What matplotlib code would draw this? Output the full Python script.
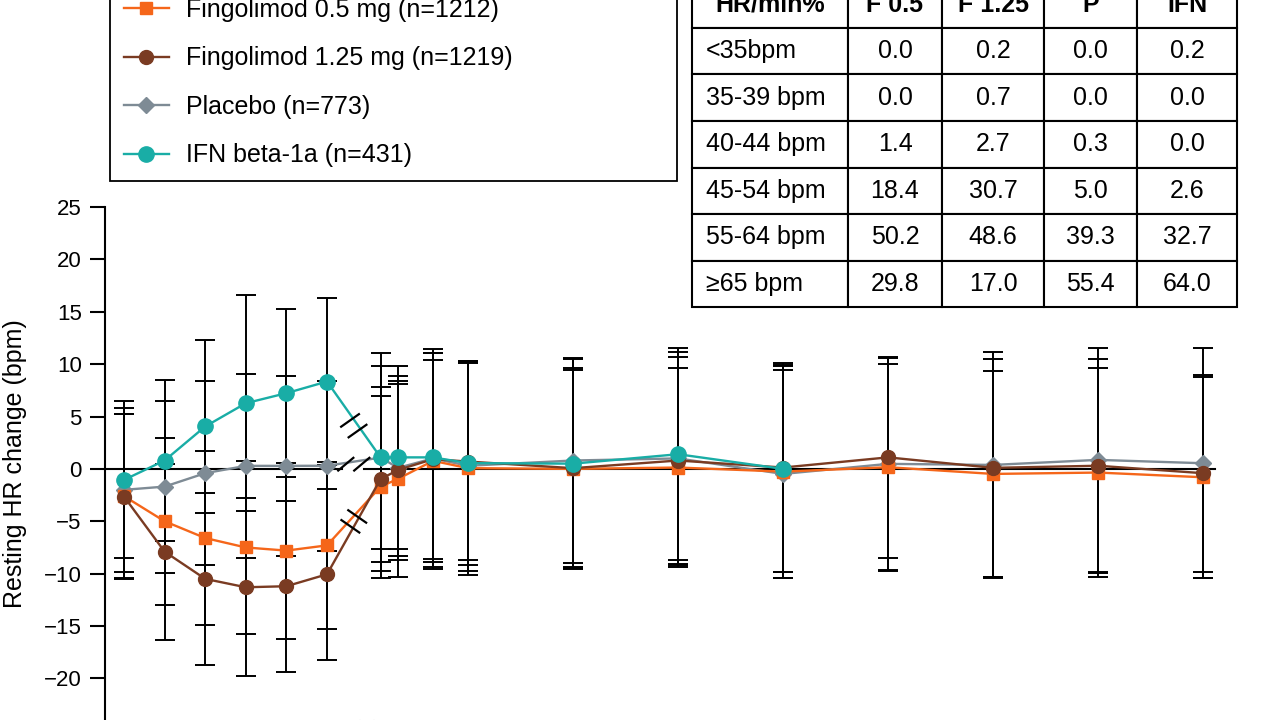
import numpy as np
import matplotlib
matplotlib.use("Agg")
import matplotlib.pyplot as plt
from matplotlib.lines import Line2D

plt.rcParams['font.family'] = ['Liberation Sans', 'DejaVu Sans']

# ---------------- data ----------------
hours = [0, 1, 2, 3, 4, 5]                       # day-1 hourly readings
months = [0.5, 1, 2, 3, 6, 9, 12, 15, 18, 21, 24]  # follow-up visits (months)

nan = np.nan
f05 = [-2.6, -5.0, -6.6, -7.5, -7.8, -7.3,
       -1.7, -0.95, 0.77, 0.07, 0.0, 0.13, -0.26, 0.16, -0.48, -0.35, -0.8]
f05_sd = [7.8, 7.95, 8.3, 8.3, 8.4, 7.95,
          8.7, 9.35, 10.3, 10.2, 9.6, 9.5, 10.2, 9.9, 9.8, 10.0, 9.6]
f125 = [-2.64, -7.9, -10.5, -11.3, -11.2, -10.06,
        -0.98, -0.1, 0.93, 0.7, 0.07, 0.8, 0.13, 1.1, 0.1, 0.3, -0.41]
f125_sd = [7.9, 8.4, 8.2, 8.5, 8.15, 8.14,
           8.8, 8.2, 9.5, 9.4, 9.4, 9.9, 10.0, 9.6, 10.4, 10.2, 9.4]
pbo = [-2.0, -1.69, -0.41, 0.29, 0.29, 0.3,
       1.08, 0.1, 1.0, 0.3, 0.8, 1.0, -0.48, 0.48, 0.38, 0.86, 0.54]
pbo_sd = [7.85, 8.2, 8.8, 8.75, 8.6, 8.1,
          10.0, 8.8, 10.4, 10.0, 9.8, 10.2, 9.9, 10.1, 10.8, 10.7, 10.96]
ifn = [-1.05, 0.8, 4.05, 6.27, 7.23, 8.34,
       1.1, 1.1, 1.1, 0.55, 0.5, 1.4, 0.0, nan, nan, nan, nan]
ifn_sd = [7.5, 7.7, 8.3, 10.3, 8.0, 8.0,
          8.7, 8.7, 10.0, 9.7, 10.0, 10.1, 9.8, nan, nan, nan, nan]

labels = ["Fingolimod 0.5 mg (n=1212)", "Fingolimod 1.25 mg (n=1219)",
          "Placebo (n=773)", "IFN beta-1a (n=431)"]

table_header = ["HR/min%", "F 0.5", "F 1.25", "P", "IFN"]
table_rows = ["<35bpm", "35-39 bpm", "40-44 bpm", "45-54 bpm", "55-64 bpm", "\u226565 bpm"]
tab_f05 = ["0.0", "0.0", "1.4", "18.4", "50.2", "29.8"]
tab_f125 = ["0.2", "0.7", "2.7", "30.7", "48.6", "17.0"]
tab_p = ["0.0", "0.0", "0.3", "5.0", "39.3", "55.4"]
tab_ifn = ["0.2", "0.0", "0.0", "2.6", "32.7", "64.0"]

# ---------------- styles ----------------
C_OR = "#F5661A"
C_BR = "#7A3B22"
C_GR = "#7E8B95"
C_TE = "#19ADA6"

# broken time axis: day-1 hours then months
MONTH_OFFSET = 5.887
MONTH_SCALE = 0.862
x = np.array([float(h) for h in hours] + [MONTH_OFFSET + MONTH_SCALE * m for m in months])

fig = plt.figure(figsize=(12.8, 7.2), dpi=100)
W, H = 1280.0, 720.0
ax = fig.add_axes([105 / W, 0.0, 1 - 105 / W, (720 - 207) / H])
ax.set_xlim(-0.468, 28.47)
ax.set_ylim(-23.97, 25)

for s in ["top", "right", "bottom"]:
    ax.spines[s].set_visible(False)
ax.spines["left"].set_linewidth(1.5)
ax.set_xticks([])
ax.set_yticks(np.arange(-20, 26, 5))
ax.tick_params(axis="y", length=10.8, width=1.5, labelsize=16, pad=6, direction="out")
ax.set_ylabel("Resting HR change (bpm)", fontsize=18)
ax.yaxis.set_label_coords(-0.066, 0.5)

# zero line with break gap
brk = (x[5] + x[6]) / 2.0
ax.plot([ax.get_xlim()[0], brk - 0.30], [0, 0], color="black", lw=1.5, zorder=1)
ax.plot([brk + 0.25, x[-1] + 0.3], [0, 0], color="black", lw=1.5, zorder=1)

series = [
    (pbo, pbo_sd, C_GR, "D", 8.0),
    (f05, f05_sd, C_OR, "s", 9.0),
    (f125, f125_sd, C_BR, "o", 10.0),
    (ifn, ifn_sd, C_TE, "o", 11.0),
]
for y, sd, c, m, ms in series:
    ax.errorbar(x, y, yerr=sd, fmt="none", ecolor="black", elinewidth=1.4,
                capsize=7, capthick=1.4, zorder=2)
handles = {}
for i, (y, sd, c, m, ms) in enumerate(series):
    ln, = ax.plot(x, y, color=c, lw=1.7, marker=m, ms=ms, mfc=c, mec=c, zorder=3 + i)
    handles[c] = ln

# break marks
def px_to_data(pts):
    return ax.transData.inverted().transform(pts)

def break_mark(xd, yd, ang_deg, sep_vec, half_len=12):
    cx, cy = ax.transData.transform((xd, yd))
    a = np.deg2rad(ang_deg)
    d = np.array([np.cos(a), np.sin(a)]) * half_len
    for k in (-0.5, 0.5):
        c = np.array([cx, cy]) + k * np.array(sep_vec)
        p = px_to_data([c - d, c + d])
        ax.plot(p[:, 0], p[:, 1], color="black", lw=1.6, zorder=8, clip_on=False,
                solid_capstyle="butt")

# teal segment
tx0, ty0 = ax.transData.transform((x[5], ifn[5]))
tx1, ty1 = ax.transData.transform((x[6], ifn[6]))
t_ang = np.degrees(np.arctan2(ty1 - ty0, tx1 - tx0))
tmid = px_to_data([[(tx0 + tx1) / 2, (ty0 + ty1) / 2]])[0]
u = np.array([np.cos(np.deg2rad(t_ang)), np.sin(np.deg2rad(t_ang))])
break_mark(tmid[0], tmid[1] - 0.6, t_ang + 90, 13 * u)

# orange / brown segment pair
ox0, oy0 = ax.transData.transform((x[5], (f05[5] + f125[5]) / 2))
ox1, oy1 = ax.transData.transform((x[6], (f05[6] + f125[6]) / 2))
o_ang = np.degrees(np.arctan2(oy1 - oy0, ox1 - ox0))
omid = px_to_data([[(ox0 + ox1) / 2, (oy0 + oy1) / 2]])[0]
u = np.array([np.cos(np.deg2rad(o_ang)), np.sin(np.deg2rad(o_ang))])
break_mark(omid[0], omid[1], o_ang - 90, 12 * u)

# zero-line break
break_mark(brk, 0.45, 40, (16, 0), half_len=11)
# x-axis break (mostly below the frame)
break_mark(brk + 0.2, -25.0, 60, (14, 0), half_len=12)

# legend
leg_handles = [handles[C_OR], handles[C_BR], handles[C_GR], handles[C_TE]]
leg = fig.legend(leg_handles, labels, loc="lower left",
                 bbox_to_anchor=(110 / W, 1 - 181 / H, 567 / W, 0.3),
                 bbox_transform=fig.transFigure, mode="expand", borderaxespad=0,
                 frameon=True, fancybox=False, edgecolor="black", framealpha=1,
                 fontsize=18, handlelength=1.8, handletextpad=0.7,
                 labelspacing=0.98, borderpad=0.55)
leg.get_frame().set_linewidth(1.3)

# table
tax = fig.add_axes([692 / W, (720 - 307) / H, (1237 - 692) / W, (307 + 18.5) / H])
tax.axis("off")
cell_text = [[r, a, b, c, d] for r, a, b, c, d in zip(table_rows, tab_f05, tab_f125, tab_p, tab_ifn)]
col_w = [156, 94, 102, 93, 100]
tot = float(sum(col_w))
tbl = tax.table(cellText=cell_text, colLabels=table_header, cellLoc="center",
                colWidths=[w / tot for w in col_w], bbox=[0, 0, 1, 1])
tbl.auto_set_font_size(False)
tbl.set_fontsize(18)
for (r, c), cell in tbl.get_celld().items():
    cell.set_linewidth(1.5)
    cell.set_edgecolor("black")
    if r == 0:
        cell.get_text().set_fontweight("bold")
    elif c == 0:
        cell.get_text().set_ha("left")
        cell.PAD = 0.09

fig.savefig("out.png", dpi=100)
